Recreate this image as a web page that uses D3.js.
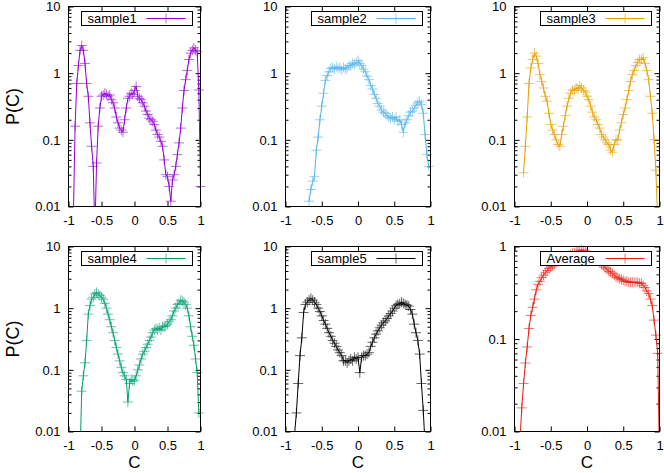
<!DOCTYPE html>
<html>
<head>
<meta charset="utf-8">
<script src="https://cdn.jsdelivr.net/npm/d3@7"></script>
<style>
body { margin: 0; background: #fff; }
svg { display: block; font-family: "Liberation Sans", Arial, sans-serif; }
</style>
</head>
<body>
<svg width="664" height="473"></svg>
<script>
// C grid (x values shared by every sample)
const cValues = [
  -1, -0.975, -0.95, -0.925, -0.9, -0.875, -0.85, -0.825, -0.8, -0.775,
  -0.75, -0.725, -0.7, -0.675, -0.65, -0.625, -0.6, -0.575, -0.55, -0.525,
  -0.5, -0.475, -0.45, -0.425, -0.4, -0.375, -0.35, -0.325, -0.3, -0.275,
  -0.25, -0.225, -0.2, -0.175, -0.15, -0.125, -0.1, -0.075, -0.05, -0.025,
  0, 0.025, 0.05, 0.075, 0.1, 0.125, 0.15, 0.175, 0.2, 0.225,
  0.25, 0.275, 0.3, 0.325, 0.35, 0.375, 0.4, 0.425, 0.45, 0.475,
  0.5, 0.525, 0.55, 0.575, 0.6, 0.625, 0.65, 0.675, 0.7, 0.725,
  0.75, 0.775, 0.8, 0.825, 0.85, 0.875, 0.9, 0.925, 0.95, 0.975,
  1
];

// P(C) per sample, 0 = nothing recorded
const sample1 = [
  0, 0, 0, 0.008, 0.16, 0.7, 1.3, 2.2, 2.6, 2.2,
  1.4, 0.7, 0.45, 0.18, 0.08, 0.04, 0.004, 0.045, 0.16, 0.3,
  0.45, 0.47, 0.5, 0.48, 0.45, 0.47, 0.4, 0.36, 0.3, 0.22,
  0.18, 0.15, 0.14, 0.13, 0.2, 0.3, 0.42, 0.45, 0.5, 0.48,
  0.55, 0.63, 0.45, 0.42, 0.4, 0.36, 0.32, 0.27, 0.24, 0.21,
  0.2, 0.19, 0.17, 0.14, 0.12, 0.11, 0.095, 0.08, 0.05, 0.03,
  0.028, 0.02, 0.012, 0.025, 0.03, 0.04, 0.06, 0.09, 0.15, 0.3,
  0.55, 0.8, 1.1, 1.6, 2.0, 2.2, 2.4, 2.2, 2.1, 0.56,
  0.02
];
const sample2 = [
  0, 0, 0, 0, 0, 0, 0, 0, 0, 0,
  0, 0, 0, 0.012, 0.018, 0.024, 0.028, 0.07, 0.11, 0.2,
  0.32, 0.5, 0.78, 0.92, 1.05, 1.18, 1.22, 1.15, 1.25, 1.18,
  1.2, 1.12, 1.22, 1.15, 1.2, 1.3, 1.28, 1.4, 1.35, 1.45,
  1.55, 1.4, 1.3, 1.15, 1.05, 0.9, 0.8, 0.65, 0.58, 0.48,
  0.42, 0.35, 0.32, 0.28, 0.26, 0.25, 0.23, 0.22, 0.21, 0.22,
  0.2, 0.22, 0.19, 0.2, 0.17, 0.13, 0.18, 0.2, 0.23, 0.26,
  0.27, 0.3, 0.33, 0.36, 0.38, 0.34, 0.25, 0.12, 0.06, 0.04,
  0
];
const sample3 = [
  0, 0, 0, 0, 0, 0.032, 0.08, 0.22, 0.7, 1.2,
  1.6, 2.0, 1.8, 1.4, 0.95, 0.75, 0.6, 0.45, 0.38, 0.25,
  0.17, 0.14, 0.12, 0.1, 0.085, 0.08, 0.12, 0.16, 0.23, 0.32,
  0.42, 0.5, 0.56, 0.55, 0.6, 0.58, 0.65, 0.6, 0.55, 0.52,
  0.45, 0.4, 0.32, 0.26, 0.22, 0.2, 0.17, 0.15, 0.12, 0.11,
  0.1, 0.09, 0.085, 0.07, 0.065, 0.085, 0.1, 0.1, 0.14, 0.18,
  0.24, 0.3, 0.4, 0.55, 0.75, 0.95, 1.1, 1.3, 1.45, 1.6,
  1.6, 1.7, 1.4, 1.1, 0.8, 0.45, 0.25, 0.1, 0.035, 0.006,
  0
];
const sample4 = [
  0, 0, 0, 0, 0, 0, 0, 0.004, 0.045, 0.08,
  0.13, 0.3, 0.8, 1.1, 1.4, 1.5, 1.7, 1.8, 1.7, 1.6,
  1.5, 1.4, 1.2, 1.0, 0.8, 0.65, 0.5, 0.4, 0.3, 0.23,
  0.18, 0.14, 0.11, 0.09, 0.08, 0.07, 0.03, 0.06, 0.07, 0.065,
  0.068, 0.08, 0.1, 0.12, 0.15, 0.18, 0.2, 0.23, 0.26, 0.3,
  0.34, 0.4, 0.44, 0.47, 0.45, 0.48, 0.44, 0.5, 0.5, 0.52,
  0.55, 0.6, 0.65, 0.75, 0.9, 1.0, 1.15, 1.2, 1.35, 1.3,
  1.25, 1.15, 1.0, 0.75, 0.5, 0.35, 0.25, 0.15, 0.09, 0.02,
  0
];
const sample5 = [
  0, 0, 0, 0, 0, 0.009, 0.02, 0.06, 0.17, 0.33,
  0.85, 1.15, 1.25, 1.35, 1.45, 1.35, 1.25, 1.15, 1.0, 0.88,
  0.75, 0.63, 0.55, 0.47, 0.4, 0.35, 0.3, 0.27, 0.24, 0.21,
  0.19, 0.17, 0.14, 0.14, 0.13, 0.14, 0.15, 0.14, 0.16, 0.15,
  0.16, 0.09, 0.16, 0.17, 0.17, 0.18, 0.19, 0.24, 0.28, 0.33,
  0.38, 0.43, 0.48, 0.53, 0.58, 0.62, 0.68, 0.75, 0.82, 0.9,
  1.0, 1.1, 1.15, 1.18, 1.25, 1.2, 1.15, 1.12, 1.08, 0.95,
  0.8, 0.55, 0.4, 0.3, 0.18, 0.06, 0.022, 0.006, 0, 0,
  0
];
const average = [
  0, 0, 0, 0.008, 0.018, 0.033, 0.055, 0.082, 0.13, 0.18,
  0.22, 0.27, 0.34, 0.39, 0.42, 0.46, 0.49, 0.52, 0.55, 0.58,
  0.6, 0.62, 0.64, 0.67, 0.69, 0.7, 0.72, 0.74, 0.76, 0.78,
  0.8, 0.82, 0.84, 0.85, 0.87, 0.88, 0.9, 0.92, 0.9, 0.87,
  0.85, 0.82, 0.79, 0.77, 0.74, 0.72, 0.7, 0.67, 0.64, 0.62,
  0.59, 0.57, 0.54, 0.53, 0.51, 0.49, 0.47, 0.46, 0.45, 0.44,
  0.43, 0.42, 0.42, 0.41, 0.41, 0.41, 0.41, 0.41, 0.41, 0.4,
  0.4, 0.38, 0.36, 0.33, 0.31, 0.27, 0.23, 0.16, 0.11, 0.07,
  0.005
];

const seriesNames = ["sample1", "sample2", "sample3", "sample4", "sample5", "Average"];
const seriesValues = [sample1, sample2, sample3, sample4, sample5, average];
const seriesColors = ["#9400d3", "#56b4e9", "#e69f00", "#009e73", "#000000", "#e51e10"];
const yMaxes = [10, 10, 10, 10, 10, 1];

const xTicks = [-1, -0.5, 0, 0.5, 1];
const xTickLabels = ["-1", "-0.5", "0", "0.5", "1"];
const yTicks = [0.01, 0.1, 1, 10];
const yTickLabels = ["0.01", "0.1", "1", "10"];

// panel frames (gnuplot multiplot, 3 x 2)
const columns = [[68.5, 200.5], [285.5, 430.5], [514.5, 659.5]];
const rows = [[6.5, 206.5], [246.5, 431.5]];

const svg = d3.select("svg");

seriesNames.forEach((name, i) => {
    const [L, R] = columns[i % 3];
    const [T, B] = rows[Math.floor(i / 3)];
    const color = seriesColors[i];

    const x = d3.scaleLinear().domain([-1, 1]).range([L, R]);
    const y = d3.scaleLog().domain([0.01, yMaxes[i]]).range([B, T]);

    const major = yTicks.filter(v => v <= yMaxes[i]);
    const minor = y.ticks().filter(v => !major.some(m => Math.abs(m - v) < 1e-9));

    const g = svg.append("g");

    const styleAxis = sel => {
        sel.select(".domain").remove();
        sel.selectAll("line").attr("stroke", "#000");
        sel.selectAll("text").attr("fill", "#000").style("font-size", "13px")
            .style("font-family", "'Liberation Sans', Arial, sans-serif");
    };

    // y axes (left with labels, right mirrored)
    g.append("g").attr("transform", `translate(${L},0)`)
        .call(d3.axisLeft(y).tickValues(major).tickSize(-5).tickPadding(8)
            .tickFormat(d => yTickLabels[yTicks.indexOf(d)]))
        .call(styleAxis);
    g.append("g").attr("transform", `translate(${L},0)`)
        .call(d3.axisLeft(y).tickValues(minor).tickSize(-3).tickFormat(""))
        .call(styleAxis);
    g.append("g").attr("transform", `translate(${R},0)`)
        .call(d3.axisRight(y).tickValues(major).tickSize(-5).tickFormat(""))
        .call(styleAxis);
    g.append("g").attr("transform", `translate(${R},0)`)
        .call(d3.axisRight(y).tickValues(minor).tickSize(-3).tickFormat(""))
        .call(styleAxis);

    // x axes
    g.append("g").attr("transform", `translate(0,${B})`)
        .call(d3.axisBottom(x).tickValues(xTicks).tickSize(-5).tickPadding(9)
            .tickFormat((d, k) => xTickLabels[k]))
        .call(styleAxis);
    g.append("g").attr("transform", `translate(0,${T})`)
        .call(d3.axisTop(x).tickValues(xTicks).tickSize(-5).tickFormat(""))
        .call(styleAxis);

    const data = cValues.map((c, k) => ({ c: c, p: seriesValues[i][k] }));

    const clipId = "clip" + i;
    g.append("clipPath").attr("id", clipId)
        .append("rect").attr("x", L).attr("y", T).attr("width", R - L).attr("height", B - T);

    const line = d3.line()
        .defined(d => d.p > 0)
        .x(d => x(d.c))
        .y(d => y(d.p));

    g.append("path")
        .datum(data)
        .attr("clip-path", `url(#${clipId})`)
        .attr("fill", "none")
        .attr("stroke", color)
        .attr("stroke-width", 1)
        .attr("d", line);

    g.selectAll(".pt")
        .data(data.filter(d => d.p >= 0.01 && d.p <= yMaxes[i]))
        .enter()
        .append("path")
        .attr("class", "pt")
        .attr("transform", d => `translate(${x(d.c)},${y(d.p)})`)
        .attr("d", "M-5,0H5M0,-5V5")
        .attr("stroke", color)
        .attr("stroke-opacity", 0.6)
        .attr("stroke-width", 1);

    // border
    g.append("rect")
        .attr("x", L).attr("y", T).attr("width", R - L).attr("height", B - T)
        .attr("fill", "none").attr("stroke", "#000").attr("stroke-width", 1);

    // key
    const kx = R - 8 - 111, ky = T + 5;
    const key = g.append("g");
    key.append("rect")
        .attr("x", kx).attr("y", ky).attr("width", 111).attr("height", 14)
        .attr("fill", "#fff").attr("stroke", "#000").attr("stroke-width", 1);
    key.append("text")
        .attr("x", kx + 6).attr("y", ky + 11.5)
        .style("font-size", "13px")
        .text(name);
    key.append("line")
        .attr("x1", kx + 111 - 46).attr("x2", kx + 111 - 7)
        .attr("y1", ky + 7).attr("y2", ky + 7)
        .attr("stroke", color);
    key.append("path")
        .attr("transform", `translate(${kx + 111 - 26.5},${ky + 7})`)
        .attr("d", "M-5,0H5M0,-5V5")
        .attr("stroke", color).attr("stroke-opacity", 0.6);

    // axis titles
    if (i % 3 === 0) {
        svg.append("text")
            .attr("transform", `translate(19,${(T + B) / 2}) rotate(-90)`)
            .attr("text-anchor", "middle")
            .style("font-size", "18px")
            .text("P(C)");
    }
    if (i >= 3) {
        svg.append("text")
            .attr("x", (L + R) / 2).attr("y", 468)
            .attr("text-anchor", "middle")
            .style("font-size", "17px")
            .text("C");
    }
});
</script>
</body>
</html>
